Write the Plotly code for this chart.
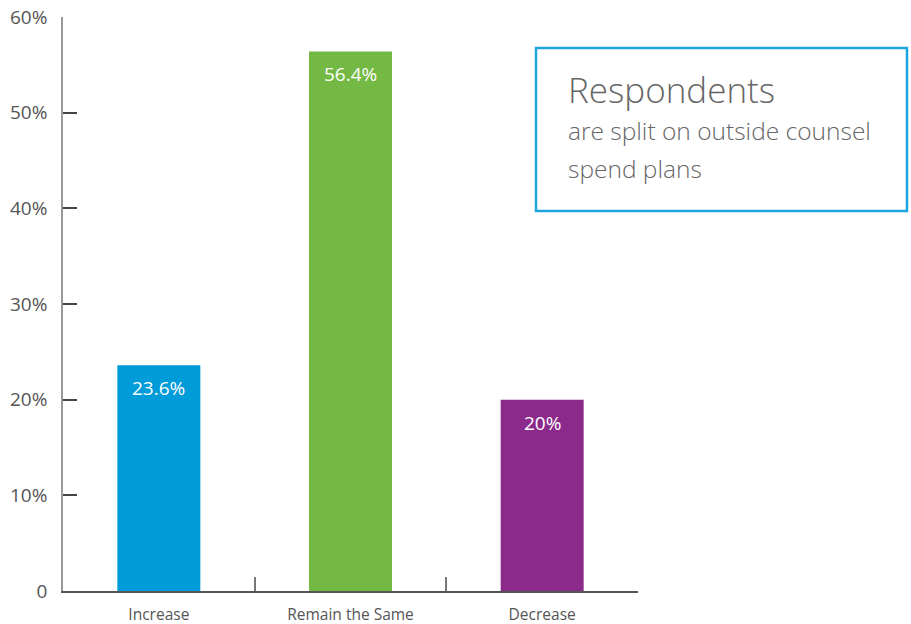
import plotly.graph_objects as go

categories = ["Increase", "Remain the Same", "Decrease"]
values = [23.6, 56.4, 20.0]
value_labels = ["23.6%", "56.4%", "20%"]
bar_colors = ["#009bd9", "#74b944", "#8b2a8b"]
y_tickvals = [0, 10, 20, 30, 40, 50, 60]
y_ticktext = ["0", "10%", "20%", "30%", "40%", "50%", "60%"]
box_title = "Respondents"
box_lines = ["are split on outside counsel", "spend plans"]

fig = go.Figure()
fig.add_trace(go.Bar(
    x=categories, y=values, marker=dict(color=bar_colors, line=dict(width=0)),
    width=0.433, hoverinfo="skip",
))

for c, v, t in zip(categories, values, value_labels):
    fig.add_annotation(x=c, y=v, text=t, showarrow=False, yanchor="middle",
                       yshift=-23, font=dict(family="Open Sans, sans-serif", size=19, color="white"))

fig.add_shape(type="rect", xref="paper", yref="paper",
              x0=0.8226, x1=1.4678, y0=0.662, y1=0.946,
              line=dict(color="#1ba6e1", width=2.5), fillcolor="rgba(0,0,0,0)")
fig.add_annotation(xref="paper", yref="paper", x=0.874, y=0.873, xanchor="left", yanchor="middle",
                   text=box_title, showarrow=False,
                   font=dict(family="Open Sans, sans-serif", size=35, color="#666666", weight=300))
fig.add_annotation(xref="paper", yref="paper", x=0.874, y=0.802, xanchor="left", yanchor="middle",
                   text=box_lines[0], showarrow=False,
                   font=dict(family="Open Sans, sans-serif", size=24.5, color="#666666", weight=300))
fig.add_annotation(xref="paper", yref="paper", x=0.874, y=0.736, xanchor="left", yanchor="middle",
                   text=box_lines[1], showarrow=False,
                   font=dict(family="Open Sans, sans-serif", size=24.5, color="#666666", weight=300))

fig.update_layout(
    width=911, height=624,
    margin=dict(l=63, r=273, t=17, b=33),
    plot_bgcolor="white", paper_bgcolor="white",
    showlegend=False,
    font=dict(family="Open Sans, sans-serif", color="#555555"),
    xaxis=dict(
        range=[-0.5, 2.5], showline=True, linecolor="#555555", linewidth=1.5,
        ticks="inside", tickson="boundaries", ticklen=14, tickcolor="#777777", tickwidth=1.5,
        showgrid=False, zeroline=False, tickfont=dict(size=15.5, color="#555555"),
        ticklabelstandoff=9, automargin=False,
    ),
    yaxis=dict(
        range=[0, 60], tickvals=y_tickvals, ticktext=y_ticktext,
        showline=True, linecolor="#999999", linewidth=1.5,
        ticks="inside", ticklen=14, tickcolor="#444444", tickwidth=1.5,
        showgrid=False, zeroline=False, tickfont=dict(size=19, color="#555555"),
        ticklabelstandoff=10, automargin=False,
    ),
)

fig.write_html("out.html", config={"displayModeBar": False},
               post_script="document.body.style.margin='0px';document.body.style.overflow='hidden';")
